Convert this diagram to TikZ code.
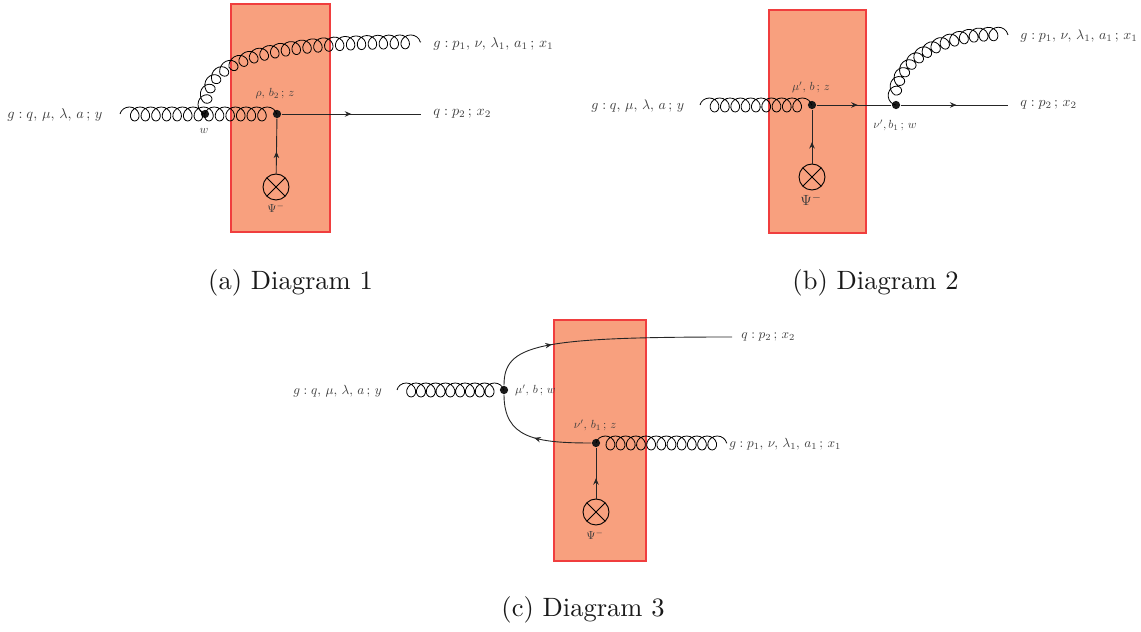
\documentclass[tikz,border=0pt]{standalone}
\usetikzlibrary{decorations.pathmorphing,decorations.markings,arrows.meta}
\definecolor{shockfill}{RGB}{248,160,126}
\definecolor{shockedge}{RGB}{240,62,62}
\definecolor{labelgray}{RGB}{60,60,60}
\tikzset{
  x=0.4pt,y=-0.4pt,
  shockbox/.style={draw=shockedge,fill=shockfill,line width=0.5pt},
  gluon/.style={line width=0.32pt,decorate,decoration={coil,amplitude=2.8pt,segment length={#1pt},aspect=0.97}},
  fermion/.style={line width=0.36pt,black!85},
  midtip/.style={postaction={decorate,decoration={markings,mark=at position #1 with {\arrow{Stealth[length=2.6pt,width=2.2pt]}}}}},
  vertexdot/.style={circle,fill=black!90,inner sep=0pt,minimum size=3.3pt},
  crossdot/.style={circle,draw,line width=0.36pt,inner sep=0pt,minimum size=10.4pt,path picture={
    \draw[line width=0.36pt] (path picture bounding box.south west)--(path picture bounding box.north east)
      (path picture bounding box.north west)--(path picture bounding box.south east);}},
  lab/.style={font=\fontsize{10}{12}\selectfont,text=labelgray,inner sep=0pt,scale=0.57},
  labthree/.style={font=\fontsize{10}{12}\selectfont,text=labelgray,inner sep=0pt,scale=0.53},
  labtwo/.style={font=\fontsize{10}{12}\selectfont,text=labelgray,inner sep=0pt,scale=0.556},
  smalllab/.style={font=\fontsize{10}{12}\selectfont,text=labelgray,inner sep=0pt,scale=0.47},
  biglabpsi/.style={font=\fontsize{10}{12}\selectfont,text=labelgray,inner sep=0pt,scale=0.59},
  captext/.style={font=\fontsize{10.6}{13}\selectfont,text=black!90,inner sep=0pt},
}
\begin{document}
\begin{tikzpicture}
\useasboundingbox (0,0) rectangle (1141,632);
% ---------- Diagram 1
\draw[shockbox] (231,4) rectangle (330,232);
\coordinate (a0) at (120,114);
\coordinate (a3) at (421,42);
\coordinate (a4) at (421,114);
\node[vertexdot] (a1) at (205,114) {};
\node[vertexdot] (a2) at (277,114) {};
\node[crossdot] (ax) at (276,187) {};
\draw[gluon=4.24] (a0.center) -- (a2.center);
\draw[gluon=4.38] (a1.center) .. controls (205,62) and (255,41) .. (a3);
\draw[fermion,midtip=0.5] (a2) -- (a4);
\draw[fermion,midtip=0.4] (ax) -- (a2);
\node[lab,anchor=west] (al1) at (7,115) {$g:q,\,\mu,\,\lambda,\,a\,;\,y$};
\node[lab,anchor=west] (al2) at (433,44) {$g:p_1,\,\nu,\,\lambda_1,\,a_1\,;\,x_1$};
\node[lab,anchor=west] (al3) at (433,114) {$q:p_2\,;\,x_2$};
\node[smalllab] (al4) at (275,94) {$\rho,\,b_2\,;\,z$};
\node[smalllab] (al5) at (204,131) {$w$};
\node[smalllab] (al6) at (276,208) {$\Psi^-$};
\node[captext] (capa) at (290.5,283) {(a) Diagram 1};
% ---------- Diagram 2
\draw[shockbox] (769,10) rectangle (866,233);
\coordinate (b0) at (700,105);
\coordinate (b3) at (1008,35);
\coordinate (b4) at (1008,105);
\node[vertexdot] (b1) at (812,105) {};
\node[vertexdot] (b2) at (896,105) {};
\node[crossdot] (bx) at (812,177) {};
\draw[gluon=4.13] (b0) -- (b1.center);
\draw[gluon=4.0] (b2.center) .. controls (892,62) and (945,30) .. (b3);
\draw[fermion,midtip=0.55] (b1) -- (b2);
\draw[fermion,midtip=0.52] (b2) -- (b4);
\draw[fermion,midtip=0.4] (bx) -- (b1);
\node[labtwo,anchor=west] (bl1) at (591,106) {$g:q,\,\mu,\,\lambda,\,a\,;\,y$};
\node[labtwo,anchor=west] (bl2) at (1020,36) {$g:p_1,\,\nu,\,\lambda_1,\,a_1\,;\,x_1$};
\node[labtwo,anchor=west] (bl3) at (1020,105) {$q:p_2\,;\,x_2$};
\node[smalllab] (bl4) at (811,87) {$\mu',\,b\,;\,z$};
\node[smalllab] (bl5) at (895,125) {$\nu',b_1\,;\,w$};
\node[biglabpsi] (bl6) at (811,200) {$\Psi^-$};
\node[captext] (capb) at (875.5,283) {(b) Diagram 2};
% ---------- Diagram 3
\draw[shockbox] (554,320) rectangle (646,561);
\coordinate (c0) at (397,390);
\coordinate (c3) at (727,443);
\coordinate (c4) at (732,337);
\node[vertexdot] (c1) at (504,390) {};
\node[vertexdot] (c2) at (596,443) {};
\node[crossdot] (cx) at (596,512) {};
\draw[gluon=3.92] (c0) -- (c1.center);
\draw[gluon=4.07] (c2.center) -- (c3);
\draw[fermion,midtip=0.28] (c1) .. controls (504,345) and (535,337) .. (c4);
\draw[fermion,midtip=0.5] (c2) .. controls (535,443) and (504,438) .. (c1);
\draw[fermion,midtip=0.4] (cx) -- (c2);
\node[labthree,anchor=west] (cl1) at (293,391) {$g:q,\,\mu,\,\lambda,\,a\,;\,y$};
\node[smalllab,anchor=west] (cl2) at (515,390) {$\mu',\,b\,;\,w$};
\node[smalllab] (cl3) at (595,425) {$\nu',\,b_1\,;\,z$};
\node[labthree,anchor=west] (cl4) at (729,444) {$g:p_1,\,\nu,\,\lambda_1,\,a_1\,;\,x_1$};
\node[labthree,anchor=west] (cl5) at (741,337) {$q:p_2\,;\,x_2$};
\node[smalllab] (cl6) at (595,535) {$\Psi^-$};
\node[captext] (capc) at (583,610) {(c) Diagram 3};
\end{tikzpicture}
\end{document}
